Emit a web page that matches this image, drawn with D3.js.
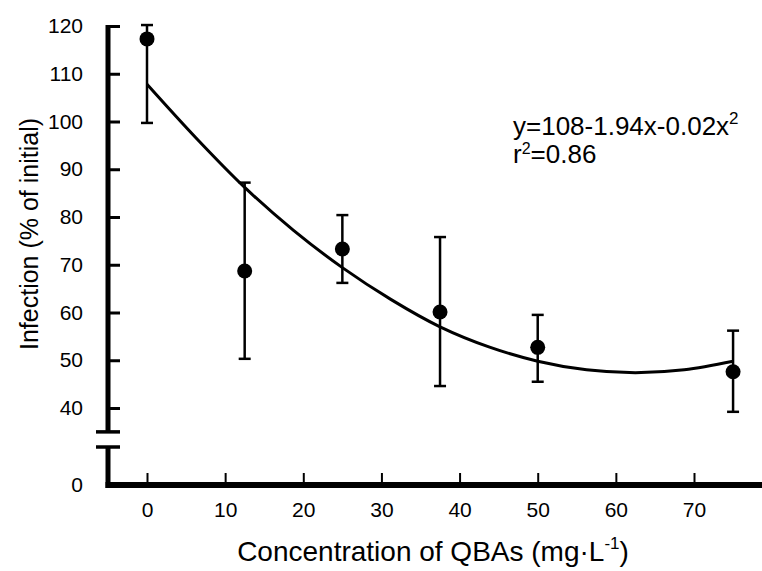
<!DOCTYPE html>
<meta charset="utf-8">
<script src="https://d3js.org/d3.v7.min.js"></script>
<style>
  body { margin: 0; background: #fff; }
  text { font-family: "Liberation Sans", Arial, sans-serif; fill: #000; }
</style>
<body>
  <div id="my_dataviz"></div>
  <script>

    var conc  = [0, 12.5, 25, 37.5, 50, 75];
    var means = [117.3, 68.7, 73.3, 60.1, 52.7, 47.6];
    var upper = [120.2, 87.2, 80.4, 75.8, 59.5, 56.2];
    var lower = [99.7, 50.3, 66.2, 44.6, 45.5, 39.2];

    // Fitted curve, points
    var fitX = [0, 6.25, 12.5, 18.75, 25, 31.25, 37.5, 43.75, 50, 56.25, 62.5, 68.75, 75];
    var fitY = [107.8, 96.6, 86.2, 77.2, 69.4, 62.7, 57.0, 52.8, 49.8, 48.0, 47.4, 48.0, 49.8];

    var xTicks = [0, 10, 20, 30, 40, 50, 60, 70];
    var yTicksUpper = [40, 50, 60, 70, 80, 90, 100, 110, 120];
    var yTicksLower = [0];

    var W = 762, H = 571;
    var axisX = 108;

    var svg = d3.select("#my_dataviz")
      .append("svg")
        .attr("width", W)
        .attr("height", H);

    // Scales: broken y axis (upper segment and lower segment)
    var x = d3.scaleLinear().domain([0, 70]).range([147, 694]);
    var yUp = d3.scaleLinear().domain([40, 120]).range([408, 26]);
    var yLow = d3.scaleLinear().domain([0, 8]).range([485, 447]);

    // Y axis ticks and labels
    var gUp = svg.append("g")
      .attr("transform", "translate(" + axisX + ",0)")
      .call(d3.axisLeft(yUp).tickValues(yTicksUpper).tickSizeInner(-12).tickSizeOuter(0).tickPadding(25));
    var gLow = svg.append("g")
      .attr("transform", "translate(" + axisX + ",0)")
      .call(d3.axisLeft(yLow).tickValues(yTicksLower).tickSizeInner(0).tickSizeOuter(0).tickPadding(25));
    [gUp, gLow].forEach(function(g) {
      g.select(".domain").remove();
      g.selectAll(".tick line").attr("stroke", "#000").attr("stroke-width", 3);
      g.selectAll(".tick text").style("font-size", "21px").attr("fill", "#000");
    });

    // Thick axis lines with the break
    svg.append("line")
      .attr("x1", axisX).attr("x2", axisX)
      .attr("y1", yUp(120) - 1).attr("y2", yUp(35))
      .attr("stroke", "#000").attr("stroke-width", 5);
    svg.append("line")
      .attr("x1", axisX).attr("x2", axisX)
      .attr("y1", yLow(8)).attr("y2", yLow(0) + 3)
      .attr("stroke", "#000").attr("stroke-width", 5);
    [yUp(35), yLow(8)].forEach(function(yy) {
      svg.append("line")
        .attr("x1", axisX - 12).attr("x2", axisX + 12)
        .attr("y1", yy).attr("y2", yy)
        .attr("stroke", "#000").attr("stroke-width", 3.5);
    });

    // X axis
    var gx = svg.append("g")
      .attr("transform", "translate(0," + yLow(0) + ")")
      .call(d3.axisBottom(x).tickValues(xTicks).tickSizeInner(-12).tickSizeOuter(0).tickPadding(17));
    gx.select(".domain").remove();
    gx.selectAll(".tick line").attr("stroke", "#000").attr("stroke-width", 2);
    gx.selectAll(".tick text").style("font-size", "21px").attr("fill", "#000");
    svg.append("line")
      .attr("x1", axisX - 2.5).attr("x2", W)
      .attr("y1", yLow(0)).attr("y2", yLow(0))
      .attr("stroke", "#000").attr("stroke-width", 6);

    // Fitted curve
    var fit = fitX.map(function(d, i) { return [d, fitY[i]]; });
    svg.append("path")
      .datum(fit)
      .attr("fill", "none")
      .attr("stroke", "#000")
      .attr("stroke-width", 3)
      .attr("d", d3.line()
        .x(function(d) { return x(d[0]); })
        .y(function(d) { return yUp(d[1]); })
        .curve(d3.curveCatmullRom)
      );

    // Error bars
    var data = conc.map(function(c, i) {
      return {x: c, m: means[i], hi: upper[i], lo: lower[i]};
    });
    var bars = svg.selectAll("g.err")
      .data(data)
      .enter()
      .append("g")
        .attr("class", "err");
    bars.append("line")
      .attr("x1", function(d) { return x(d.x); })
      .attr("x2", function(d) { return x(d.x); })
      .attr("y1", function(d) { return yUp(d.hi); })
      .attr("y2", function(d) { return yUp(d.lo); })
      .attr("stroke", "#000").attr("stroke-width", 2.5);
    ["hi", "lo"].forEach(function(k) {
      bars.append("line")
        .attr("x1", function(d) { return x(d.x) - 6; })
        .attr("x2", function(d) { return x(d.x) + 6; })
        .attr("y1", function(d) { return yUp(d[k]); })
        .attr("y2", function(d) { return yUp(d[k]); })
        .attr("stroke", "#000").attr("stroke-width", 2.5);
    });

    // Points
    svg.selectAll("circle.pt")
      .data(data)
      .enter()
      .append("circle")
        .attr("class", "pt")
        .attr("cx", function(d) { return x(d.x); })
        .attr("cy", function(d) { return yUp(d.m); })
        .attr("r", 7.5)
        .attr("fill", "#000");

    // Equation (two lines in one text element)
    var eq = svg.append("text")
      .attr("x", 513).attr("y", 135)
      .style("font-size", "26px");
    eq.append("tspan").text("y=108-1.94x-0.02x");
    eq.append("tspan").attr("dy", -11).style("font-size", "17px").text("2");
    eq.append("tspan").attr("x", 513).attr("dy", 39).text("r");
    eq.append("tspan").attr("dy", -9).style("font-size", "16px").text("2");
    eq.append("tspan").attr("dy", 9).text("=0.86");

    // Axis titles
    var xt = svg.append("text")
      .attr("x", 433).attr("y", 561)
      .attr("text-anchor", "middle")
      .style("font-size", "28px");
    xt.append("tspan").text("Concentration of QBAs (mg\u00b7L");
    xt.append("tspan").attr("dy", -12).style("font-size", "17px").text("-1");
    xt.append("tspan").attr("dy", 12).text(")");

    svg.append("text")
      .attr("transform", "translate(38,234) rotate(-90)")
      .attr("text-anchor", "middle")
      .style("font-size", "25px")
      .text("Infection (% of initial)");

  </script>
</body>
